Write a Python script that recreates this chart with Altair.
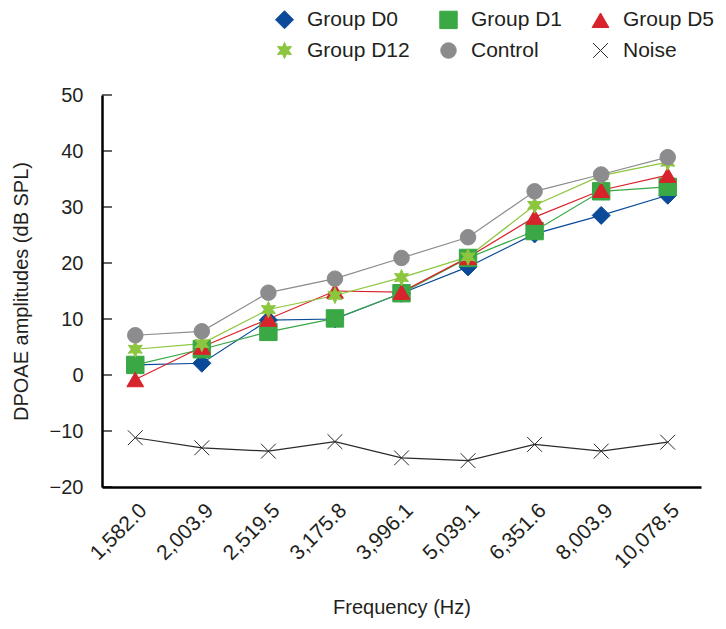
import math
import altair as alt
import pandas as pd

freqs = ["1,582.0", "2,003.9", "2,519.5", "3,175.8", "3,996.1", "5,039.1", "6,351.6", "8,003.9", "10,078.5"]
series_names = ["Group D0", "Group D1", "Group D5", "Group D12", "Control", "Noise"]

d0 = [1.8, 2.1, 9.8, 10.0, 14.6, 19.3, 25.2, 28.5, 32.1]
d1 = [1.8, 4.6, 7.7, 10.1, 14.6, 20.9, 25.7, 32.8, 33.6]
d5 = [-0.8, 5.0, 10.0, 15.0, 14.8, 21.0, 28.2, 33.0, 35.7]
d12 = [4.6, 5.6, 11.7, 14.2, 17.4, 21.1, 30.3, 35.6, 38.0]
control = [7.1, 7.8, 14.7, 17.2, 20.9, 24.6, 32.8, 35.8, 38.9]
noise = [-11.2, -13.0, -13.6, -11.9, -14.8, -15.3, -12.4, -13.6, -12.0]

y_ticks = [-20, -10, 0, 10, 20, 30, 40, 50]

colors = ["#0b4a99", "#39a845", "#d7232b", "#8cc63f", "#8c8c8e", "#2a2a2a"]
sizes = [324, 220, 230, 240, 180, 144]

# symbol paths
star_pts = []
for k in range(12):
    ang = math.pi / 2 + k * math.pi / 6
    r = 1.0 if k % 2 == 0 else 0.5
    star_pts.append(f"{r * math.cos(ang):.3f},{-r * math.sin(ang):.3f}")
star_path = "M" + "L".join(star_pts) + "Z"
x_path = "M-1,-1L1,1M-1,1L1,-1"
shapes = ["diamond", "square", "triangle-up", star_path, "circle", x_path]

all_vals = [d0, d1, d5, d12, control, noise]
rows = []
for name, vals in zip(series_names, all_vals):
    for i, (f, v) in enumerate(zip(freqs, vals)):
        rows.append({"series": name, "freq": f, "idx": i, "value": v})
df = pd.DataFrame(rows)
ticks_df = pd.DataFrame({"value": y_ticks})

font = "Liberation Sans"
txt = "#231f20"

x_enc = alt.X("freq:N", sort=freqs, scale=alt.Scale(type="point", padding=0.5, align=0.5),
              axis=alt.Axis(title="Frequency (Hz)", labelAngle=-45, labelAlign="right",
                            labelBaseline="middle", ticks=False, labelPadding=20, labelOffset=8,
                            labelFontSize=21, titlePadding=26, domainWidth=2.5,
                            domainColor="#000000"))
y_scale = alt.Scale(domain=[-20, 50], nice=False, zero=False)
y_axis = alt.Axis(title="DPOAE amplitudes (dB SPL)", values=y_ticks,
                  ticks=False, labelPadding=19, titlePadding=18,
                  domainWidth=2.5, domainColor="#000000", grid=False)
y_enc = alt.Y("value:Q", scale=y_scale, axis=y_axis)

color_scale = alt.Scale(domain=series_names, range=colors)

leg = dict(title=None, orient="none", direction="horizontal", legendX=172, legendY=-86,
           columns=3, labelFontSize=21, labelFont=font, labelColor=txt, columnPadding=27,
           rowPadding=8, labelOffset=12, symbolStrokeWidth=1)

tick_rules = alt.Chart(ticks_df).mark_rule(color="#000000", strokeWidth=1.2).encode(
    y=y_enc,
    x=alt.value(0), x2=alt.value(10),
)

line_layers = []
for name, c in zip(series_names, colors):
    line_layers.append(
        alt.Chart(df).transform_filter(alt.datum.series == name)
        .mark_line(color=c, strokeWidth=1.2)
        .encode(x=x_enc, y=y_enc, order=alt.Order("idx:Q"))
    )

points = alt.Chart(df).mark_point(filled=True, strokeWidth=1, opacity=1).encode(
    x=x_enc, y=y_enc,
    color=alt.Color("series:N", scale=color_scale, sort=series_names, legend=alt.Legend(**leg)),
    stroke=alt.Stroke("series:N", scale=color_scale, sort=series_names, legend=alt.Legend(**leg)),
    shape=alt.Shape("series:N", scale=alt.Scale(domain=series_names, range=shapes),
                    sort=series_names, legend=alt.Legend(**leg)),
    size=alt.Size("series:N", scale=alt.Scale(domain=series_names, range=sizes),
                  sort=series_names, legend=alt.Legend(**leg)),
)

chart = alt.layer(*line_layers, tick_rules, points).properties(
    width=599, height=392,
    autosize=alt.AutoSizeParams(type="none"),
    padding={"left": 94, "top": 87, "right": 15, "bottom": 132},
).configure_view(stroke=None).configure_axis(
    labelFont=font, titleFont=font, labelFontSize=20, titleFontSize=20,
    labelColor=txt, titleColor=txt, titleFontWeight="normal",
)

chart.save("out.html", embed_options={"renderer": "svg", "actions": False})
